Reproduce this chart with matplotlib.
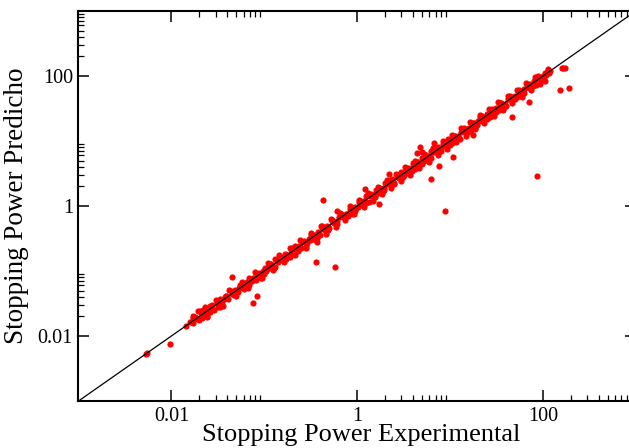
import matplotlib
matplotlib.use("Agg")
import matplotlib.pyplot as plt
from matplotlib.ticker import FixedLocator, FixedFormatter, NullFormatter

plt.rcParams['font.family'] = ['Liberation Serif', 'DejaVu Serif']

# main band of points (experimental vs predicted stopping power)
band_exp = [0.016, 0.017, 0.018, 0.019, 0.020, 0.021, 0.022, 0.0235, 0.025, 0.026,
            0.0275, 0.029, 0.031, 0.033, 0.035, 0.037, 0.039, 0.041, 0.0435, 0.046,
            0.049, 0.052, 0.055, 0.058, 0.061, 0.065, 0.069, 0.073, 0.077, 0.082,
            0.087, 0.092, 0.097,
            0.101, 0.105, 0.113, 0.118, 0.127, 0.132, 0.142, 0.149, 0.159, 0.167,
            0.179, 0.187, 0.201, 0.212, 0.223, 0.238, 0.250, 0.267, 0.281, 0.300,
            0.315, 0.336, 0.354, 0.377, 0.397, 0.423, 0.446, 0.474, 0.500, 0.532,
            0.561, 0.597, 0.630, 0.669, 0.707, 0.751, 0.793, 0.842, 0.890, 0.945,
            1.02, 1.06, 1.12, 1.19, 1.26, 1.33, 1.41, 1.50, 1.58, 1.68,
            1.78, 1.88, 2.00, 2.11, 2.24, 2.37, 2.51, 2.66, 2.82, 2.99,
            3.16, 3.35, 3.55, 3.76, 3.98, 4.22, 4.47, 4.73, 5.01, 5.31,
            5.62, 5.96, 6.31, 6.68, 7.08, 7.50, 7.94, 8.41, 8.91, 9.44,
            10.1, 10.5, 11.3, 11.8, 12.7, 13.2, 14.2, 14.9, 15.9, 16.7,
            17.9, 18.7, 20.1, 21.2, 22.3, 23.8, 25.0, 26.7, 28.1, 30.0,
            31.5, 33.6, 35.4, 37.7, 39.7, 42.3, 44.6, 47.4, 50.0, 53.2,
            56.1, 59.7, 63.0, 66.9, 70.7, 75.1, 79.3, 84.2, 89.0, 94.5,
            100, 103, 106, 109, 112, 115, 118]
band_pred = [0.0166, 0.0156, 0.0198, 0.0184, 0.0176, 0.0223, 0.0249, 0.0223, 0.0253, 0.0234,
             0.0297, 0.0249, 0.0319, 0.0370, 0.0329, 0.0366, 0.0417, 0.0365, 0.0500, 0.0442,
             0.0510, 0.0478, 0.0605, 0.0563, 0.0537, 0.0689, 0.0780, 0.0694, 0.0778, 0.0738,
             0.0940, 0.0791, 0.0999,
             0.113, 0.0987, 0.112, 0.126, 0.113, 0.152, 0.136, 0.155, 0.146, 0.184,
             0.174, 0.165, 0.213, 0.240, 0.212, 0.240, 0.225, 0.288, 0.242, 0.309,
             0.353, 0.316, 0.350, 0.403, 0.353, 0.486, 0.428, 0.493, 0.460, 0.585,
             0.544, 0.525, 0.668, 0.756, 0.672, 0.759, 0.714, 0.909, 0.765, 0.973,
             0.969, 1.155, 1.019, 1.214, 1.436, 1.157, 1.481, 1.470, 1.754, 1.562,
             1.780, 1.673, 2.26, 2.173, 2.150, 2.560, 2.259, 2.820, 2.651, 3.349,
             3.002, 3.652, 3.231, 3.835, 4.537, 3.671, 4.694, 4.635, 5.561, 4.938,
             5.620, 5.304, 7.130, 6.880, 6.797, 8.100, 7.146, 8.915, 8.375, 10.57,
             10.30, 9.45, 12.09, 11.21, 10.92, 13.73, 15.62, 13.86, 15.74, 14.70,
             18.97, 15.90, 20.30, 23.11, 20.52, 23.09, 26.25, 23.23, 31.19, 28.20,
             32.13, 30.24, 37.88, 35.82, 34.14, 43.99, 49.06, 44.08, 49.50, 46.82,
             59.47, 50.75, 63.63, 72.92, 65.04, 72.85, 83.27, 73.25, 98.79, 88.83,
             101, 98, 110, 104, 116, 111, 120]

# points sitting close to the diagonal
core_exp = [0.0185, 0.0225, 0.027, 0.032, 0.038, 0.045, 0.053, 0.063, 0.075, 0.089,
            0.109, 0.122, 0.137, 0.154, 0.173, 0.194, 0.218, 0.244, 0.274, 0.307,
            0.345, 0.387, 0.434, 0.487, 0.546, 0.613, 0.688, 0.772, 0.866, 0.972,
            1.09, 1.22, 1.37, 1.54, 1.73, 1.94, 2.18, 2.44, 2.74, 3.07,
            3.45, 3.87, 4.34, 4.87, 5.46, 6.13, 6.88, 7.72, 8.66, 9.72,
            10.9, 12.2, 13.7, 15.4, 17.3, 19.4, 21.8, 24.4, 27.4, 30.7,
            34.5, 38.7, 43.4, 48.7, 54.6, 61.3, 68.8, 77.2, 86.6, 97.2]
core_pred = [0.0190, 0.0218, 0.0279, 0.0311, 0.0392, 0.0437, 0.0546, 0.0611, 0.0773, 0.0863,
             0.112, 0.118, 0.141, 0.149, 0.178, 0.188, 0.225, 0.237, 0.282, 0.298,
             0.355, 0.375, 0.447, 0.472, 0.562, 0.595, 0.709, 0.749, 0.892, 0.943,
             1.12, 1.18, 1.41, 1.49, 1.78, 1.88, 2.25, 2.37, 2.82, 2.98,
             3.55, 3.75, 4.47, 4.72, 5.62, 5.95, 7.09, 7.49, 8.92, 9.43,
             11.2, 11.8, 14.1, 14.9, 17.8, 18.8, 22.5, 23.7, 28.2, 29.8,
             35.5, 37.5, 44.7, 47.2, 56.2, 59.5, 70.9, 74.9, 89.2, 94.3]

# points a little off the diagonal, filling the band
fill_exp = [0.0172, 0.0212, 0.0262, 0.0315, 0.0385, 0.047, 0.056, 0.068, 0.083, 0.099,
            0.115, 0.130, 0.150, 0.170, 0.200, 0.228, 0.255, 0.292, 0.330, 0.372,
            0.42, 0.48, 0.54, 0.60, 0.68, 0.76, 0.86, 0.96, 1.10, 1.24,
            1.40, 1.56, 1.76, 1.97, 2.20, 2.48, 2.78, 3.12, 3.50, 3.92,
            4.40, 4.95, 5.55, 6.20, 7.00, 7.80, 8.80, 9.90, 11.0, 12.4,
            13.9, 15.6, 17.6, 19.7, 22.0, 24.8, 27.8, 31.2, 35.0, 39.2,
            44.0, 49.5, 55.5, 62.0, 70.0, 78.0, 88.0, 98.0]
fill_pred = [0.0187, 0.0191, 0.0291, 0.0277, 0.0412, 0.0428, 0.0616, 0.0605, 0.0896, 0.0911,
             0.1265, 0.1144, 0.1635, 0.153, 0.222, 0.203, 0.275, 0.266, 0.363, 0.327,
             0.458, 0.432, 0.599, 0.534, 0.734, 0.692, 0.946, 0.845, 1.20, 1.116,
             1.554, 1.388, 1.90, 1.79, 2.42, 2.18, 3.03, 2.81, 3.885, 3.49,
             4.75, 4.50, 6.105, 5.456, 7.63, 7.02, 9.77, 8.81, 11.88, 11.28,
             15.29, 13.73, 19.18, 17.73, 24.42, 22.07, 30.02, 28.39, 38.5, 34.5,
             47.96, 44.55, 61.6, 55.18, 75.6, 70.98, 96.8, 86.24]

# points on the outer edges of the band
edge_exp = [0.0205, 0.024, 0.030, 0.036, 0.042, 0.050, 0.057, 0.067, 0.079, 0.094,
            0.11, 0.125, 0.145, 0.165, 0.19, 0.215, 0.245, 0.28, 0.32, 0.365,
            0.41, 0.46, 0.52, 0.59, 0.66, 0.74, 0.83, 0.93, 1.05, 1.18,
            1.32, 1.48, 1.66, 1.86, 2.09, 2.34, 2.63, 2.95, 3.31, 3.71,
            4.17, 4.68, 5.25, 5.89, 6.61, 7.41, 8.32, 9.33, 10.5, 11.7,
            13.2, 14.8, 16.6, 18.6, 20.9, 23.4, 26.3, 29.5, 33.1, 37.1,
            41.7, 46.8, 52.5, 58.9, 66.1, 74.1, 83.2, 93.3]
edge_pred = [0.0246, 0.0199, 0.0352, 0.0291, 0.0512, 0.0408, 0.0668, 0.0551, 0.0958, 0.0772,
             0.131, 0.102, 0.178, 0.136, 0.224, 0.174, 0.296, 0.229, 0.378, 0.301,
             0.493, 0.372, 0.628, 0.481, 0.779, 0.608, 1.00, 0.752, 1.24, 0.975,
             1.59, 1.20, 1.96, 1.55, 2.53, 1.90, 3.08, 2.44, 3.98, 3.02,
             4.91, 3.88, 6.31, 4.79, 7.72, 6.14, 9.96, 7.58, 12.3, 9.66,
             15.9, 12.0, 19.5, 15.4, 25.3, 19.0, 30.9, 24.4, 39.8, 30.1,
             49.1, 38.9, 61.7, 48.0, 77.9, 61.2, 97.6, 76.1]

# isolated points
odd_exp = [0.0053, 0.0055, 0.0097, 0.0144, 0.0171, 0.0195, 0.023, 0.0244, 0.0334, 0.0446,
           0.083, 0.0755, 0.43, 0.357, 0.577, 0.607, 1.21, 1.72, 2.2, 4.74,
           4.4, 5.0, 6.7, 7.6, 6.2, 8.8, 10.7, 17.8, 46, 70.6,
           86, 105, 113, 152, 190, 159, 166, 172, 0.366]
odd_pred = [0.0053, 0.0054, 0.0075, 0.0143, 0.0203, 0.0245, 0.0282, 0.0203, 0.0282, 0.080,
            0.041, 0.032, 1.24, 0.136, 0.115, 0.84, 1.83, 1.07, 3.1, 8.1,
            6.5, 6.8, 9.3, 4.1, 2.6, 0.84, 5.7, 12.4, 23.4, 39.8,
            2.86, 84, 128, 61, 65, 134, 134, 134, 0.282]

axis_lim = [1e-3, 1e3]
major_ticks = [0.01, 1, 100]
major_labels = ['0.01', '1', '100']
minor_ticks = [m * base for base in (0.01, 1, 100) for m in range(2, 10)]

fig = plt.figure(figsize=(6.29, 4.48), dpi=100)
ax = fig.add_axes([0.1248, 0.1049, 0.886, 0.8705])

for xs, ys in [(band_exp, band_pred), (core_exp, core_pred), (fill_exp, fill_pred),
               (edge_exp, edge_pred), (odd_exp, odd_pred)]:
    ax.scatter(xs, ys, s=20, color='#ff0000', linewidths=0, zorder=2)
ax.plot(axis_lim, axis_lim, color='black', lw=0.9, zorder=3)

ax.set_xscale('log')
ax.set_yscale('log')
ax.set_xlim(axis_lim)
ax.set_ylim(axis_lim)

for axis in (ax.xaxis, ax.yaxis):
    axis.set_major_locator(FixedLocator(major_ticks))
    axis.set_major_formatter(FixedFormatter(major_labels))
    axis.set_minor_locator(FixedLocator(minor_ticks))
    axis.set_minor_formatter(NullFormatter())

ax.tick_params(which='both', direction='in', top=True, right=True, labelsize=14.5)
ax.tick_params(which='major', length=7.6, width=1.1, pad=4)
ax.tick_params(which='minor', length=4, width=0.9)
for sp in ax.spines.values():
    sp.set_linewidth(1.5)

ax.set_xlabel('Stopping Power Experimental', fontsize=19)
ax.set_ylabel('Stopping Power Predicho', fontsize=19.5, labelpad=6)
ax.xaxis.set_label_coords(0.508, -0.0595)

fig.savefig('out.png', dpi=100)
